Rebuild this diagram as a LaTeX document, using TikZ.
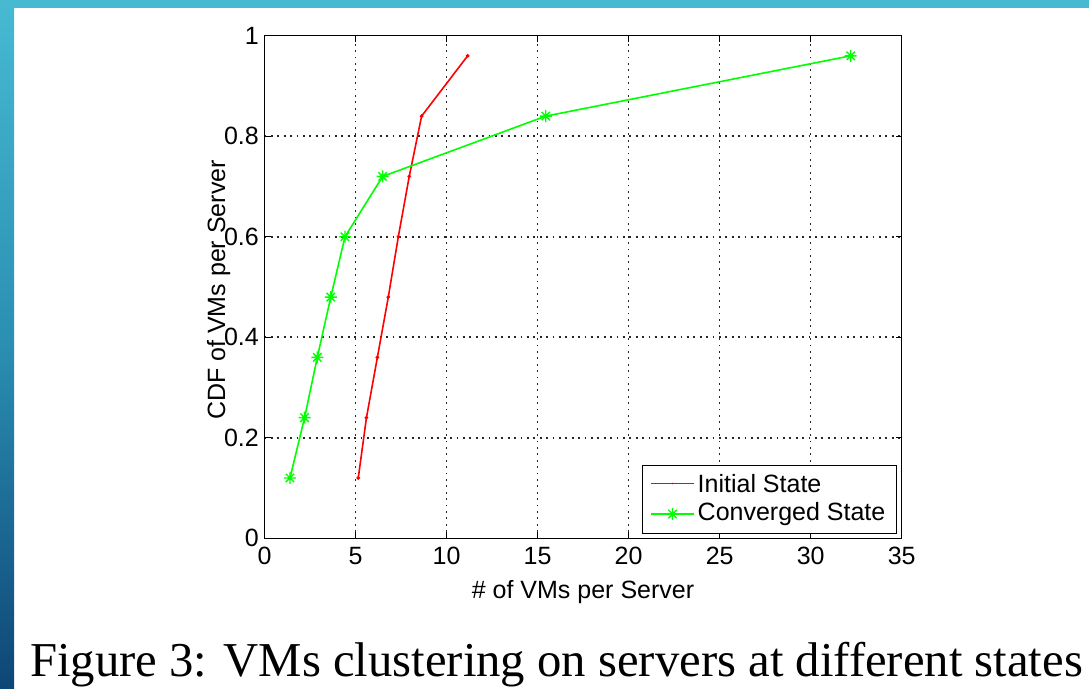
\documentclass[tikz,border=0pt]{standalone}
\usepackage{fontspec}
\setmainfont{Liberation Serif}
\newfontfamily\arialfont{Liberation Sans}
\usetikzlibrary{plotmarks}
\definecolor{bandtop}{HTML}{47BAD2}
\definecolor{bandmid}{HTML}{2A8FB2}
\definecolor{bandbot}{HTML}{0E4676}
\definecolor{mred}{RGB}{255,0,0}
\definecolor{mgreen}{RGB}{0,255,0}
\pgfdeclareplotmark{mstar}{%
  \pgfpathmoveto{\pgfpoint{-\pgfplotmarksize}{0pt}}\pgfpathlineto{\pgfpoint{\pgfplotmarksize}{0pt}}%
  \pgfpathmoveto{\pgfpoint{0pt}{-\pgfplotmarksize}}\pgfpathlineto{\pgfpoint{0pt}{\pgfplotmarksize}}%
  \pgfpathmoveto{\pgfpoint{-0.7\pgfplotmarksize}{-0.7\pgfplotmarksize}}\pgfpathlineto{\pgfpoint{0.7\pgfplotmarksize}{0.7\pgfplotmarksize}}%
  \pgfpathmoveto{\pgfpoint{-0.7\pgfplotmarksize}{0.7\pgfplotmarksize}}\pgfpathlineto{\pgfpoint{0.7\pgfplotmarksize}{-0.7\pgfplotmarksize}}%
  \pgfusepathqstroke}
\tikzset{
  gridline/.style={black!85, line width=1.6pt, dash pattern=on 1.8pt off 4.6pt},
  axisline/.style={black, line width=1.4pt},
  ticklabel/.style={font=\arialfont\fontsize{25}{25}\selectfont, inner sep=0pt, text=black},
  axlabel/.style={font=\arialfont\fontsize{25}{25}\selectfont, inner sep=0pt, text=black},
  redline/.style={mred, line width=1.6pt},
  greenline/.style={mgreen, line width=1.6pt},
}
\begin{document}
\begin{tikzpicture}[x=1pt,y=-1pt]
\useasboundingbox (0,0) rectangle (1089,688);
\fill[white] (0,0) rectangle (1089,688);
\shade[top color=bandtop, bottom color=bandbot, middle color=bandmid] (0,0) rectangle (14,688);
\fill[bandtop] (0,0) rectangle (1089,8);
\begin{scope}[shift={(264.5,538.3)}, x=18.206pt, y=502.6pt]
  % grid
  \foreach \v in {5,10,...,30} \draw[gridline] (\v,0) -- (\v,1);
  \foreach \v in {0.2,0.4,0.6,0.8} \draw[gridline] (0,\v) -- (35,\v);
  % ticks
  \foreach \v in {5,10,...,30} {
    \draw[axisline, line width=1.2pt] (\v,0) -- ++(0,0.012);
    \draw[axisline, line width=1.2pt] (\v,1) -- ++(0,-0.012);
  }
  \foreach \v in {0.2,0.4,0.6,0.8} {
    \draw[axisline, line width=1.2pt] (0,\v) -- ++(0.33,0);
    \draw[axisline, line width=1.2pt] (35,\v) -- ++(-0.33,0);
  }
  % box
  \draw[axisline] (0,0) rectangle (35,1);
  % tick labels
  \foreach \v [count=\i] in {0,5,10,15,20,25,30,35}
    \node[ticklabel, anchor=north] (xt\i) at (\v,0) [yshift=-9pt] {\v};
  \foreach \v/\t [count=\i] in {0/0,0.2/0.2,0.4/0.4,0.6/0.6,0.8/0.8,1/1}
    \node[ticklabel, anchor=east] (yt\i) at (0,\v) [xshift=-5.5pt] {\t};
  % data
  \draw[redline, mark=*, mark size=0.9pt, mark options={fill=mred, draw=mred}]
    plot coordinates {(5.15,0.12) (5.6,0.24) (6.2,0.36) (6.8,0.48) (7.35,0.6) (7.95,0.72) (8.63,0.84) (11.16,0.96)};
  \draw[greenline, mark=mstar, mark size=6pt, mark options={mgreen, line width=1.4pt}]
    plot coordinates {(1.40,0.12) (2.2,0.24) (2.9,0.36) (3.64,0.48) (4.42,0.6) (6.49,0.72) (15.45,0.84) (32.2,0.96)};
\end{scope}
% axis labels
\node[axlabel, anchor=base] (xlab) at (583,598) {\# of VMs per Server};
\node[axlabel, anchor=base, rotate=90] (ylab) at (225,290) {CDF of VMs per Server};
% legend
\node[draw=black, line width=1.1pt, fill=white, minimum width=254.3pt, minimum height=67.7pt, inner sep=0pt, anchor=north west] (legend) at (641.7,465) {};
\coordinate (r1) at (651,483.5);
\coordinate (r2) at (694,483.5);
\coordinate (g1) at (651,514);
\coordinate (g2) at (694,514);
\draw[redline] (r1) -- (r2);
\path (r1) -- (r2) node[midway, circle, fill=mred, inner sep=0pt, minimum size=1.8pt] (rmark) {};
\draw[greenline] (g1) -- (g2);
\draw[greenline] plot[mark=mstar, mark size=6pt, mark options={mgreen, line width=1.4pt}] coordinates {(672.5,514)};
\node[axlabel, anchor=west] (leg1) at (697.5,483.5) {Initial State};
\node[axlabel, anchor=west] (leg2) at (697.5,514) {Converged State};
% caption
\node[anchor=base west, inner sep=0pt, font=\fontsize{48.7}{48.7}\selectfont] (caption) at (30,676) {Figure 3: VMs clustering on servers at different states};
\end{tikzpicture}
\end{document}
